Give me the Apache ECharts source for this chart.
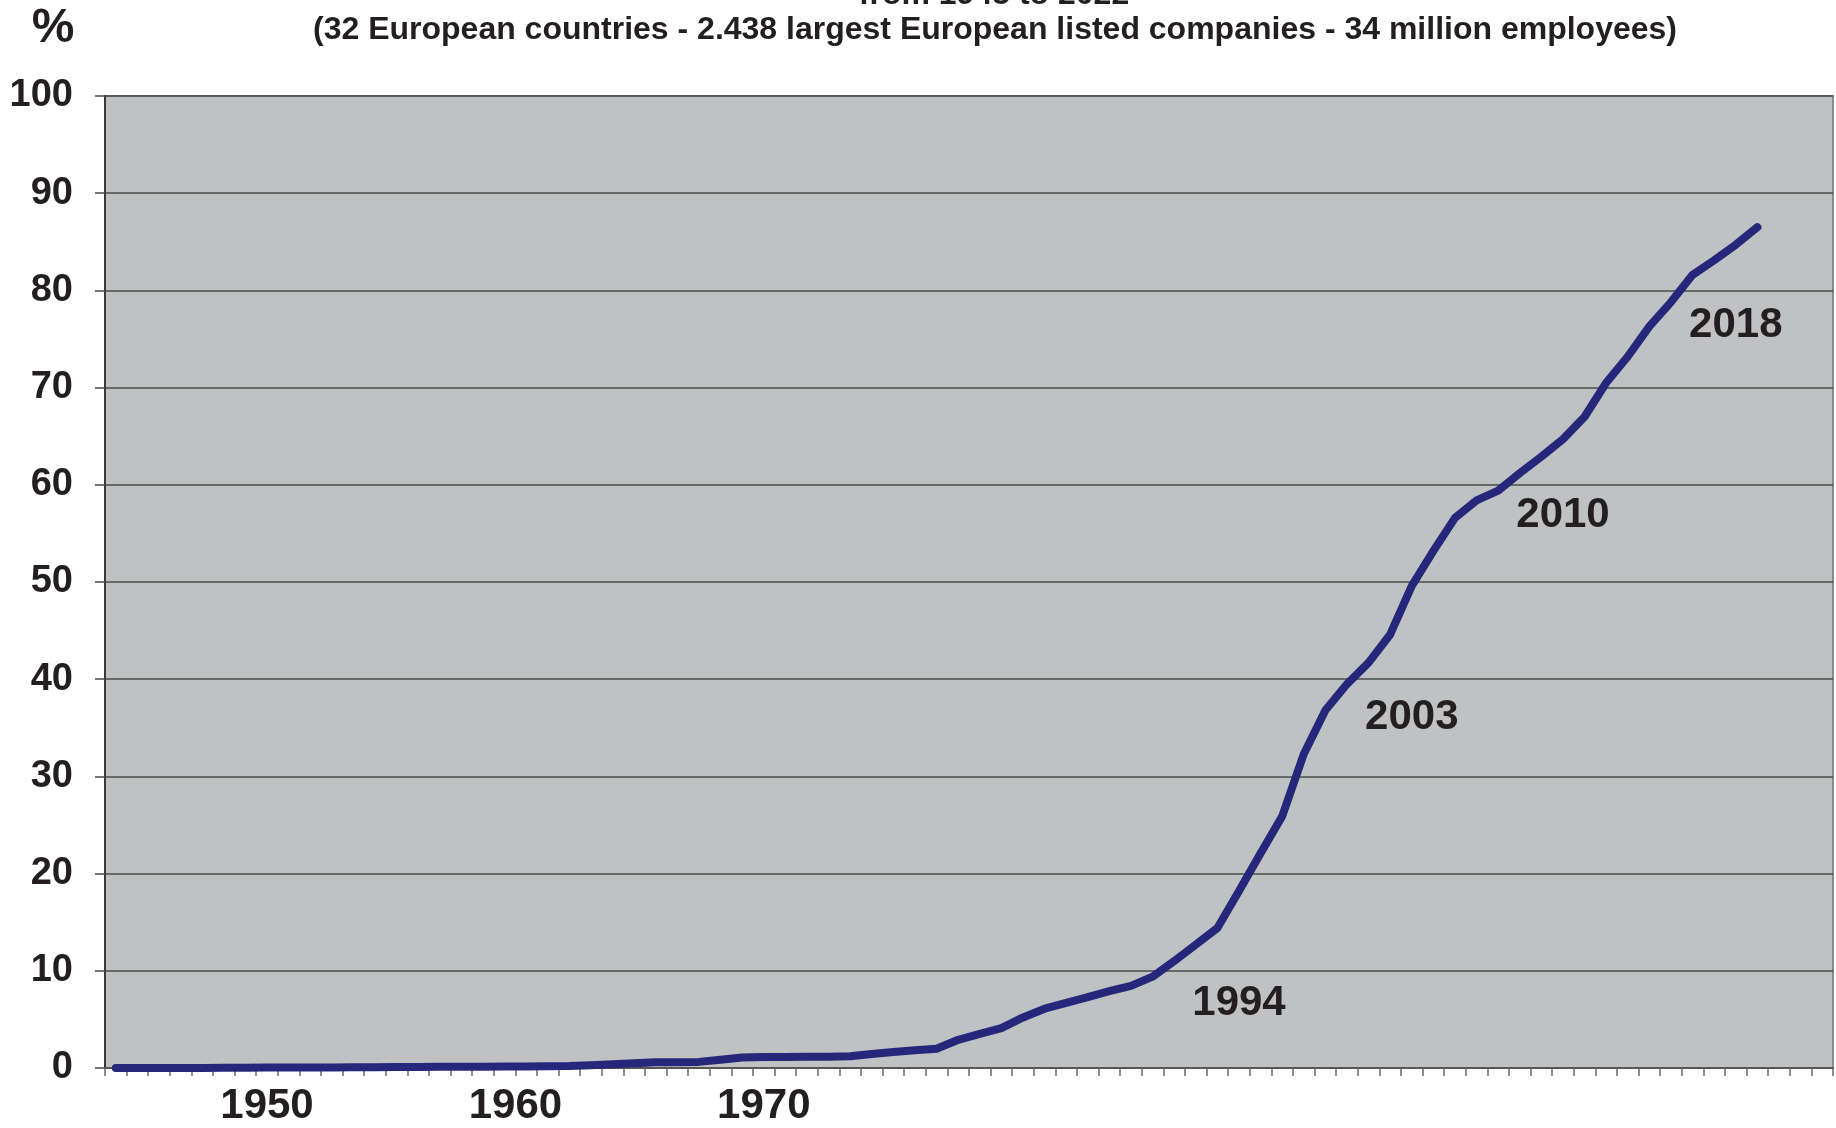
<!DOCTYPE html>
<html>
<head>
<meta charset="utf-8">
<script src="https://cdn.jsdelivr.net/npm/echarts@6/dist/echarts.min.js"></script>
<style>
html,body{margin:0;padding:0;background:#fff;}
#chart{width:1836px;height:1128px;}
</style>
</head>
<body>
<div id="chart"></div>
<script>
// ---- data ----
var years = [];
for (var y = 1943; y <= 2022; y++) years.push(String(y));

var values = [
  0, 0, 0, 0, 0, 0.02, 0.03, 0.04, 0.05, 0.05,
  0.06, 0.07, 0.08, 0.1, 0.1, 0.12, 0.13, 0.14, 0.15, 0.16,
  0.18, 0.2, 0.28, 0.38, 0.5, 0.58, 0.6, 0.63, 0.85, 1.08,
  1.12, 1.14, 1.15, 1.17, 1.2, 1.45, 1.65, 1.82, 1.98, 2.9,
  3.5, 4.1, 5.2, 6.1, 6.7, 7.3, 7.9, 8.45, 9.4, 11.0,
  12.7, 14.4, 18.2, 22.1, 25.9, 32.3, 36.8, 39.5, 41.7, 44.6,
  49.6, 53.2, 56.6, 58.4, 59.4, 61.2, 62.9, 64.7, 67.0, 70.5,
  73.2, 76.3, 78.8, 81.6, 83.1, 84.7, 86.5
];

var xTickText  = ['1950', '1960', '1970'];
var xTickIndex = [7, 19, 30];

var annotText  = ['1994', '2003', '2010', '2018'];
var annotIndex = [52, 60, 67, 75];
var annotValue = [6.6, 36.1, 56.9, 76.4];

var titleLine1 = 'from 1945 to 2022';
var titleLine2 = '(32 European countries - 2.438 largest European listed companies - 34 million employees)';
var unitLabel = '%';

// ---- chart ----
var FONT = '"Liberation Sans", Arial, Helvetica, sans-serif';
var TXT = '#231f20';
var chart = echarts.init(document.getElementById('chart'));

var annotData = annotText.map(function (t, i) {
  return { value: [annotIndex[i], annotValue[i]], name: t };
});

chart.setOption({
  animation: false,
  backgroundColor: '#ffffff',
  graphic: [
    { type: 'text', x: 994, y: -5,
      style: { text: titleLine1, textAlign: 'center', textVerticalAlign: 'middle',
               font: 'bold 32px ' + FONT, fill: TXT } },
    { type: 'text', x: 995, y: 30,
      style: { text: titleLine2, textAlign: 'center', textVerticalAlign: 'middle',
               font: 'bold 32px ' + FONT, fill: TXT } },
    { type: 'text', x: 53, y: 29,
      style: { text: unitLabel, textAlign: 'center', textVerticalAlign: 'middle',
               font: 'bold 48px ' + FONT, fill: TXT } }
  ],
  grid: {
    left: 105, top: 96, width: 1728, height: 972,
    show: true, backgroundColor: '#c0c1c3', borderColor: '#8a8a8a', borderWidth: 2
  },
  xAxis: {
    type: 'category',
    data: years,
    boundaryGap: true,
    axisLine: { show: true, lineStyle: { color: '#555555', width: 2 } },
    axisTick: { show: true, interval: 0, length: 8, lineStyle: { color: '#6a6a6a', width: 1.5 } },
    axisLabel: {
      show: true,
      interval: function (idx) { return xTickIndex.indexOf(idx) >= 0; },
      formatter: function (val, idx) {
        var k = xTickIndex.indexOf(idx);
        if (k < 0) return '';
        return k === 1 ? '{s|' + xTickText[k] + '}' : xTickText[k];
      },
      rich: { s: { padding: [0, 21.6, 0, 0], fontFamily: FONT, fontWeight: 'bold', fontSize: 42, color: TXT } },
      margin: 17,
      fontFamily: FONT, fontWeight: 'bold', fontSize: 42, color: TXT
    },
    splitLine: { show: false }
  },
  yAxis: {
    type: 'value',
    min: 0, max: 100, interval: 10,
    axisLine: { show: true, lineStyle: { color: '#3a3a3a', width: 2 } },
    axisTick: { show: true, length: 10, lineStyle: { color: '#4a4a4a', width: 1.5 } },
    axisLabel: { margin: 32, fontFamily: FONT, fontWeight: 'bold', fontSize: 38, color: TXT },
    splitLine: { show: true, lineStyle: { color: '#4a4a4a', width: 1.5 } }
  },
  series: [
    {
      type: 'line',
      data: values,
      symbol: 'none',
      smooth: false,
      lineStyle: { color: '#26277a', width: 8, cap: 'round', join: 'round' },
      z: 3
    },
    {
      type: 'scatter',
      data: annotData,
      symbolSize: 1,
      itemStyle: { color: 'rgba(0,0,0,0)', opacity: 1 },
      label: {
        show: true, position: 'inside',
        formatter: function (p) { return p.name; },
        fontFamily: FONT, fontWeight: 'bold', fontSize: 42, color: TXT, opacity: 1
      },
      z: 4
    }
  ]
});
</script>
</body>
</html>
